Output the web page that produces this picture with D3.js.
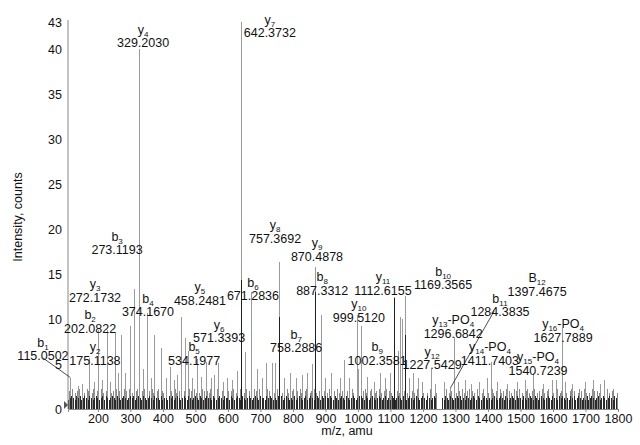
<!DOCTYPE html>
<html>
<head>
<meta charset="utf-8">
<script src="https://cdn.jsdelivr.net/npm/d3@7"></script>
<style>
  body { margin: 0; background: #fff; }
  svg { display: block; font-family: "Liberation Sans", Arial, sans-serif; }
  .tick text { font-size: 12.5px; fill: #111; }
  .lbl { font-size: 12.5px; fill: #111; }
</style>
</head>
<body>
<svg width="640" height="445"></svg>
<script>
// assigned / major peaks: [m/z, counts]
const grayPeaks = [
  [115.05, 3.4], [140, 2.6], [152, 2.8], [175.11, 5.7], [190, 3.0], [202.08, 8.8],
  [214, 3.2], [228, 8.8], [240, 3.0], [253, 8.4], [262, 4.0], [272.17, 8.2],
  [285, 4.0], [299, 9.2], [314, 13.3], [329.20, 40], [341, 4.5], [354, 10.7],
  [365, 3.5], [374.17, 8.2], [397, 6.8], [410, 3.5], [422, 4.7], [435, 3.2],
  [445, 3.8], [458.25, 10.2], [468, 7.9], [478, 6.5], [490, 3.5], [505, 5.6],
  [520, 3.6], [534.20, 5.2], [548, 3.5], [560, 3.8], [571.34, 5.1], [585, 3.0],
  [600, 3.5], [615, 3.2], [630, 4.2], [642.37, 43], [653, 6.3], [671.28, 13.0],
  [690, 4.5], [705, 3.5], [720, 5.1], [736, 5.1], [745, 5.1], [757.37, 16.3],
  [775, 3.5], [792, 4.0], [810, 3.5], [828, 3.8], [845, 4.0], [860, 5.0],
  [870.49, 15.8], [887.33, 10.5], [900, 3.5], [920, 4.0], [945, 3.5], [960, 5.4],
  [975, 3.5], [999.51, 10.5], [1002.36, 4.5], [1012, 9.2], [1030, 3.6], [1050, 3.0],
  [1070, 4.0], [1085, 3.5], [1100, 4.0], [1112.62, 12.4], [1125, 6.5], [1130, 10.2],
  [1138, 10.0], [1145, 12.6], [1160, 3.5], [1169.36, 4.0], [1185, 3.5], [1200, 3.0],
  [1227.54, 4.4], [1240, 2.8], [1265, 3.0], [1284.38, 2.3], [1296.68, 8.0], [1310, 3.0],
  [1330, 3.2], [1350, 2.8], [1375, 3.0], [1397.47, 3.5], [1411.74, 5.2], [1430, 3.0],
  [1460, 2.8], [1490, 3.0], [1515, 3.2], [1540.72, 4.0], [1570, 2.8], [1600, 3.2],
  [1612, 3.2], [1627.79, 9.0], [1640, 3.0], [1660, 2.8], [1700, 3.0], [1725, 3.2],
  [1745, 2.8], [1760, 3.2]
];
const darkPeaks = [
  [642.37, 14.3], [757.37, 10.2], [870.49, 13.0], [1112.62, 12.3], [1145, 8.2]
];

// baseline noise, one digit per 5 amu bin, one string per 100 amu (from 110)
// low band: digit * 0.2 counts, mid band (offset 2.5 amu): digit * 0.25 counts
const lowNoise = [
  "56765767567657656765", "67576567657656765676", "75676576567657665756",
  "65767567656765765676", "57656766576567657665", "76567657656765676576",
  "65767656576756765657", "56765675676567657676", "67657656765765676567",
  "76576567656765675657", "65676576567656765676", "57656760006576576567",
  "67565765676576567656", "56765676576567657665", "76567657656765676576",
  "65767656576756765657", "567656756765676576"
];
const midNoise = [
  "80907890870980790870", "97080978090870980907", "08970890780970890870",
  "90780970890807980970", "70980879080970890780", "89070980790870980907",
  "07980870990780970890", "80970890780970890807", "97080970890870970980",
  "08970890780970890870", "90870980790870980970", "70980870000890780970",
  "80970890870980790870", "97080978090870980907", "08970890780970890870",
  "90780970890807980970", "709808790809708907"
];

// ion labels: name ({} = subscript), m/z text, label centre in data units
const labels = [
  { name: "y{4}", text: "329.2030", at: [339, 40.67] },
  { name: "y{7}", text: "642.3732", at: [729, 41.78] },
  { name: "b{1}", text: "115.0502", at: [31, 5.89] },
  { name: "y{2}", text: "175.1138", at: [191, 5.44] },
  { name: "b{2}", text: "202.0822", at: [176, 9.0] },
  { name: "y{3}", text: "272.1732", at: [191, 12.44] },
  { name: "b{3}", text: "273.1193", at: [259, 17.67] },
  { name: "b{4}", text: "374.1670", at: [354, 10.78] },
  { name: "y{5}", text: "458.2481", at: [514, 12.11] },
  { name: "y{6}", text: "571.3393", at: [573, 7.89] },
  { name: "b{5}", text: "534.1977", at: [496, 5.44] },
  { name: "b{6}", text: "671.2836", at: [677, 12.56] },
  { name: "y{8}", text: "757.3692", at: [745, 19.0] },
  { name: "y{9}", text: "870.4878", at: [874, 17.0] },
  { name: "b{8}", text: "887.3312", at: [890, 13.22] },
  { name: "y{11}", text: "1112.6155", at: [1077, 13.22] },
  { name: "y{10}", text: "999.5120", at: [1003, 10.22] },
  { name: "b{7}", text: "758.2886", at: [810, 6.78] },
  { name: "b{9}", text: "1002.3581", at: [1059, 5.44] },
  { name: "y{12}", text: "1227.5429", at: [1228, 4.89] },
  { name: "b{10}", text: "1169.3565", at: [1262, 13.78] },
  { name: "B{12}", text: "1397.4675", at: [1551, 13.11] },
  { name: "b{11}", text: "1284.3835", at: [1437, 10.78] },
  { name: "y{13}-PO{4}", text: "1296.6842", at: [1293, 8.44] },
  { name: "y{14}-PO{4}", text: "1411.7403", at: [1406, 5.44] },
  { name: "y{15}-PO{4}", text: "1540.7239", at: [1554, 4.33] },
  { name: "y{16}-PO{4}", text: "1627.7889", at: [1631, 8.0] }
];
// leader lines from label to peak: [from m/z, from counts, to m/z, to counts]
const leaders = [
  [31, 5.67, 115.05, 3.5],
  [1419, 10.89, 1284.38, 2.33]
];

const xTicks = d3.range(200, 1801, 100);
const yTicks = [0, 5, 10, 15, 20, 25, 30, 35, 40, 43];

const svg = d3.select('svg');
const x = d3.scaleLinear().domain([108, 1800]).range([68, 618]);
const y = d3.scaleLinear().domain([0, 43]).range([409, 22]);

const decode = (rows, start, factor) => {
  const pts = [];
  rows.forEach((s, k) => [...s].forEach((c, i) => {
    if (+c) pts.push([start + 100 * k + 5 * i, +c * factor]);
  }));
  return pts;
};
const lowPts = decode(lowNoise, 110, 0.2);
const midPts = decode(midNoise, 112.5, 0.25);

const drawBars = (data, color, cls) => {
  svg.append('g').attr('class', cls)
    .selectAll('line').data(data).join('line')
      .attr('x1', d => x(d[0])).attr('x2', d => x(d[0]))
      .attr('y1', y(0)).attr('y2', d => y(d[1]))
      .attr('stroke', color).attr('stroke-width', 1)
      .attr('shape-rendering', 'crispEdges');
};

drawBars(midPts, '#8a8a8a', 'mid');
drawBars(grayPeaks, '#9a9a9a', 'peaks');
drawBars(lowPts, '#2a2a2a', 'low');
drawBars(darkPeaks, '#1e1e1e', 'dark');

// axes
const xAxis = d3.axisBottom(x).tickValues(xTicks).tickFormat(d3.format('d'))
  .tickSize(3).tickPadding(2);
const xAxisG = svg.append('g').attr('transform', `translate(0,${y(0)})`).call(xAxis);
xAxisG.select('.domain').attr('stroke', '#888');
xAxisG.selectAll('.tick line').attr('stroke', '#888');

const yAxis = d3.axisLeft(y).tickValues(yTicks).tickSize(0).tickPadding(6);
const yAxisG = svg.append('g').attr('transform', `translate(${x(108)},0)`).call(yAxis);
yAxisG.select('.domain').attr('stroke', '#888').attr('d', `M0,${y(0)}V20`);

svg.append('path')
  .attr('d', `M${x(108) - 4},${y(0) - 8}L${x(108)},${y(0) - 4}L${x(108) - 4},${y(0)}Z`)
  .attr('fill', '#555');

svg.append('text').attr('class', 'lbl')
  .attr('x', 347).attr('y', 435).attr('text-anchor', 'middle')
  .text('m/z, amu');
svg.append('text').attr('class', 'lbl')
  .attr('transform', 'rotate(-90)')
  .attr('x', -217).attr('y', 22).attr('text-anchor', 'middle')
  .text('Intensity, counts');

// leader lines
svg.append('g').selectAll('line').data(leaders).join('line')
  .attr('x1', d => x(d[0])).attr('y1', d => y(d[1]))
  .attr('x2', d => x(d[2])).attr('y2', d => y(d[3]))
  .attr('stroke', '#222').attr('stroke-width', 0.8);

// labels
const lg = svg.append('g');
labels.forEach(l => {
  const cx = x(l.at[0]), cy = y(l.at[1]);
  lg.append('text').attr('class', 'lbl')
    .attr('x', cx).attr('y', cy + 4.5).attr('text-anchor', 'middle')
    .text(l.text);
  const t = lg.append('text').attr('class', 'lbl')
    .attr('x', cx).attr('y', cy - 9).attr('text-anchor', 'middle');
  let shifted = false;
  l.name.split(/(\{[^}]*\})/).filter(s => s).forEach(part => {
    if (part[0] === '{') {
      t.append('tspan').attr('font-size', 8).attr('dy', 3).text(part.slice(1, -1));
      shifted = true;
    } else {
      t.append('tspan').attr('dy', shifted ? -3 : 0).text(part);
      shifted = false;
    }
  });
});
</script>
</body>
</html>
